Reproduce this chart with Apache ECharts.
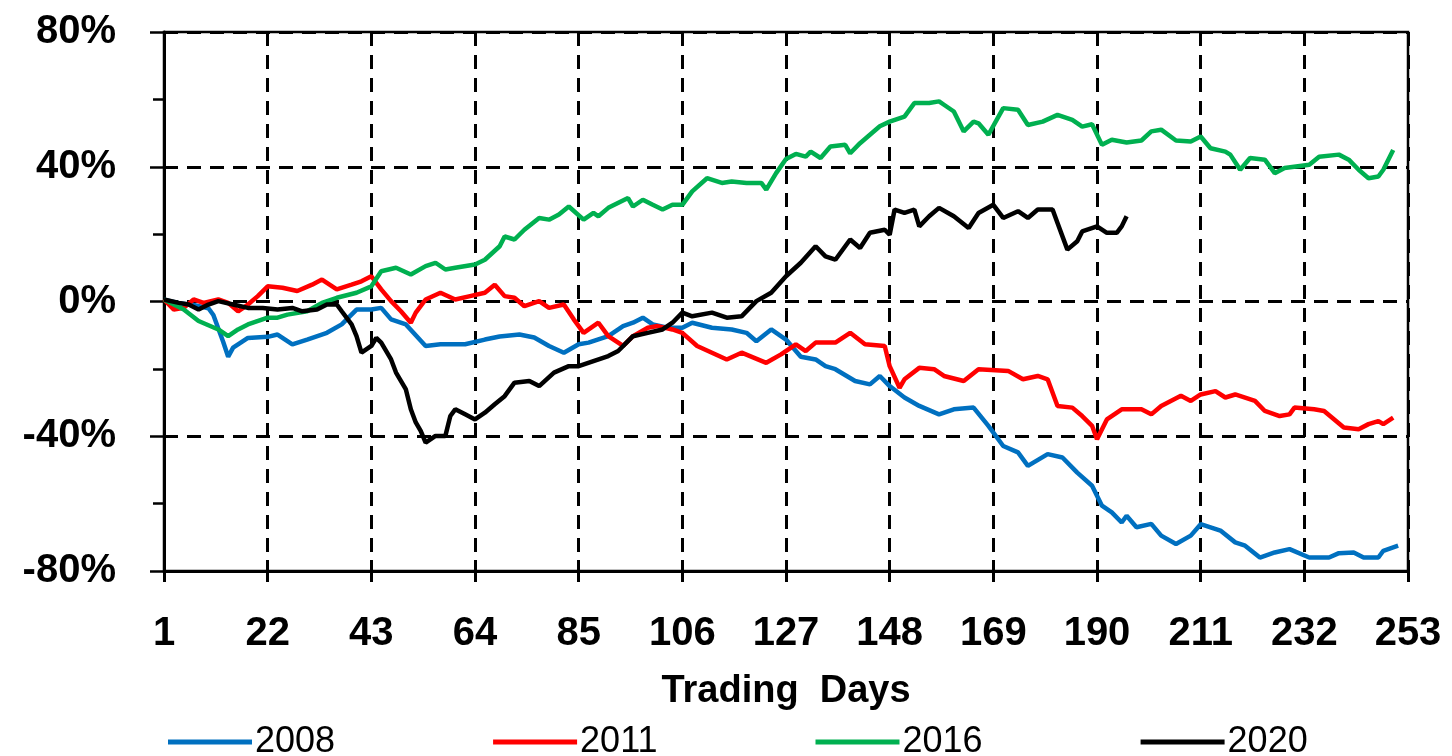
<!DOCTYPE html>
<html lang="en">
<head>
    <meta charset="UTF-8">
    <title>Trading Days</title>
    <script src="https://cdn.jsdelivr.net/npm/echarts@6/dist/echarts.min.js"></script>
    <style>
        html, body { margin: 0; padding: 0; background: #fff; }
    </style>
</head>
<body>
    <div id="main" style="width:1452px;height:756px;"></div>
    <script>
        // [trading day, % change]
        let s2008 = [[1,0.5],[4,-0.5],[7,-1],[10,-2],[11,-4],[13,-12],[14,-16.4],[15,-13.7],[18,-10.8],[22,-10.5],[24,-9.8],[27,-12.7],[30,-11.3],[34,-9.3],[37,-6.8],[40,-2.4],[43,-2.4],[45,-1.9],[47,-5.3],[50,-6.8],[54,-13.2],[57,-12.7],[62,-12.7],[66,-11.3],[69,-10.4],[73,-9.8],[76,-10.7],[79,-13.2],[82,-15.2],[85,-12.7],[87,-12.2],[91,-10.3],[94,-7.3],[96,-6.3],[98,-4.8],[100,-6.8],[103,-7.8],[106,-7.8],[108,-6.3],[112,-7.8],[116,-8.3],[119,-9.3],[121,-11.8],[124,-8.3],[127,-11.3],[130,-16.4],[133,-17.2],[135,-19.2],[137,-20.1],[141,-23.6],[144,-24.6],[146,-22.1],[148,-25.1],[151,-28.5],[154,-31],[158,-33.5],[161,-32],[165,-31.5],[168,-36.9],[171,-42.9],[174,-44.8],[176,-48.8],[180,-45.3],[183,-46.3],[186,-50.8],[189,-54.7],[191,-60.6],[193,-62.6],[195,-65.6],[196,-63.6],[198,-67],[201,-66],[203,-69.5],[206,-72],[209,-69.5],[211,-66.1],[215,-68],[218,-71.5],[220,-72.5],[223,-76],[226,-74.5],[229,-73.5],[233,-76],[237,-76],[239,-74.7],[242,-74.5],[244,-76],[247,-76],[248,-74],[251,-72.5]];
        let s2011 = [[1,0.6],[3,-2.4],[5,-1.9],[7,0.6],[9,-0.4],[12,0.6],[14,-0.4],[16,-2.9],[18,-0.9],[20,1.6],[22,4.5],[25,4.1],[28,3.1],[31,5],[33,6.5],[36,3.6],[39,5],[41,6],[43,7.5],[45,3.6],[47,0.1],[49,-2.9],[51,-6.3],[52,-3.3],[54,0.6],[57,2.6],[60,0.6],[63,1.6],[66,2.6],[68,5],[70,1.6],[72,1.1],[74,-1.4],[77,0.1],[79,-1.9],[82,-0.9],[84,-5.3],[86,-9.3],[89,-6.3],[91,-10.3],[94,-13.2],[96,-10.3],[99,-7.8],[101,-7.3],[104,-8.3],[106,-9.3],[109,-13.2],[112,-15.2],[115,-17.2],[118,-15.2],[123,-18.2],[126,-15.7],[129,-12.7],[131,-14.7],[133,-12.2],[137,-12.2],[140,-9.3],[143,-12.7],[147,-13.2],[148,-19.2],[150,-25.6],[151,-23.1],[154,-19.7],[157,-20.1],[159,-22.1],[163,-23.6],[166,-20.1],[172,-20.6],[175,-23.1],[178,-22.1],[180,-23.1],[182,-31],[185,-31.5],[187,-34],[189,-36.9],[190,-40.9],[192,-35],[195,-32],[199,-32],[201,-33.5],[203,-31],[207,-28],[209,-29.5],[211,-27.6],[214,-26.6],[216,-28.5],[218,-27.6],[222,-29.5],[224,-32.5],[227,-34],[229,-33.5],[230,-31.5],[234,-32],[236,-32.5],[240,-37.4],[243,-37.9],[245,-36.4],[247,-35.5],[248,-36.4],[250,-34.5]];
        let s2016 = [[1,0.6],[5,-2.4],[8,-5.8],[12,-8.3],[14,-10.3],[16,-8.3],[18,-6.8],[22,-4.8],[24,-4.8],[26,-3.9],[30,-2.9],[33,-0.4],[36,1.1],[40,2.6],[43,4.5],[45,9],[48,10],[51,8],[54,10.5],[56,11.5],[58,9.5],[60,10],[64,11],[66,12.4],[69,16.4],[70,19.3],[72,18.4],[74,21.3],[77,24.8],[79,24.3],[81,25.8],[83,28.2],[86,24.3],[88,26.3],[89,25.3],[91,27.8],[95,30.7],[96,28.2],[98,30.2],[100,28.7],[102,27.3],[104,28.7],[106,28.7],[108,32.7],[111,36.6],[114,35.2],[116,35.6],[119,35.2],[122,35.2],[123,33.2],[125,38.1],[127,42.3],[129,43.8],[131,43],[132,44.5],[134,42.6],[136,46],[139,46.5],[140,44],[142,47],[144,49.5],[146,52],[148,53.4],[151,54.9],[153,58.9],[156,58.9],[158,59.4],[159,58.4],[161,56.4],[163,50.5],[165,53.4],[166,52.9],[168,49.5],[171,57.4],[174,56.9],[176,52.4],[179,53.4],[182,55.4],[185,53.9],[187,51.9],[189,52.6],[191,46.5],[193,48],[196,47.2],[199,47.8],[201,50.5],[203,51],[206,47.8],[209,47.5],[211,49],[213,45.5],[216,44.5],[217,43.6],[219,39.1],[221,42.6],[224,42.1],[226,38.1],[228,39.6],[233,40.6],[235,43],[239,43.6],[241,42.1],[243,39.1],[245,36.6],[247,37.1],[248,39.1],[250,45]];
        let s2020 = [[1,0.6],[4,-0.4],[6,-0.9],[8,-2.4],[10,-0.9],[12,0.1],[15,-0.9],[18,-1.9],[21,-1.9],[24,-2.4],[27,-1.9],[29,-2.9],[32,-2.4],[34,-0.9],[36,-0.9],[37,-2.9],[39,-6.8],[40,-10.3],[41,-15.2],[43,-13.2],[44,-10.8],[45,-12.2],[47,-17.2],[48,-21.1],[50,-26.1],[51,-32],[52,-35.9],[53,-38.4],[54,-41.9],[56,-39.9],[58,-39.9],[59,-34],[60,-32],[62,-33.5],[64,-35],[66,-33],[68,-30.5],[70,-28.1],[72,-24.1],[75,-23.6],[77,-25.1],[80,-21.1],[83,-19.2],[85,-19.2],[88,-17.7],[91,-16.2],[93,-14.7],[96,-10.3],[99,-9.3],[102,-8.3],[104,-6.3],[106,-3.3],[108,-4.4],[112,-3.3],[115,-4.8],[118,-4.4],[121,0.1],[124,2.6],[127,7.5],[130,11.5],[133,16.4],[135,13.4],[137,12.4],[140,18.4],[142,15.9],[144,20.4],[147,21.3],[148,19.8],[149,27.3],[151,26.3],[153,27.3],[154,22.3],[156,25.3],[158,27.8],[161,25.3],[164,21.8],[166,26.3],[169,28.7],[171,24.8],[174,26.8],[176,24.8],[178,27.3],[181,27.3],[182,23.3],[184,15.4],[186,17.9],[187,20.8],[190,22.3],[192,20.4],[194,20.4],[195,22.3],[196,25.3]];

        let years = ['2008', '2011', '2016', '2020'];
        let colors = ['#0070C0', '#FF0000', '#00B050', '#000000'];
        let lines = [s2008, s2011, s2016, s2020];

        let font = 'Liberation Sans';
        let dash = [14, 9];

        let chart = echarts.init(document.getElementById('main'));

        chart.setOption({
            animation: false,
            backgroundColor: '#fff',
            grid: {
                left: 164,
                right: 44,
                top: 32,
                bottom: 185,
                show: true,
                borderColor: '#000',
                borderWidth: 2.5
            },
            legend: {
                data: years,
                top: 719,
                left: 163,
                icon: 'rect',
                itemWidth: 84,
                itemHeight: 5,
                itemGap: 158,
                textStyle: {
                    fontFamily: font,
                    fontSize: 36,
                    color: '#000',
                    padding: [0, 0, 0, -2]
                }
            },
            xAxis: [{
                type: 'value',
                min: 1,
                max: 253,
                interval: 21,
                position: 'bottom',
                name: 'Trading  Days',
                nameLocation: 'middle',
                nameGap: 102,
                nameTextStyle: {
                    fontFamily: font,
                    fontWeight: 'bold',
                    fontSize: 38,
                    color: '#000'
                },
                axisLine: { onZero: false, lineStyle: { color: '#000', width: 3 } },
                axisTick: { length: 11, lineStyle: { color: '#000', width: 3 } },
                axisLabel: {
                    margin: 43,
                    fontFamily: font,
                    fontWeight: 'bold',
                    fontSize: 40,
                    color: '#000'
                },
                splitLine: { lineStyle: { color: '#000', width: 3, type: dash } }
            }, {
                // inner half of the crossing ticks
                type: 'value',
                min: 1,
                max: 253,
                interval: 21,
                position: 'bottom',
                offset: 0,
                axisLine: { show: false, onZero: false },
                axisTick: { inside: true, length: 11, lineStyle: { color: '#000', width: 3 } },
                axisLabel: { show: false },
                splitLine: { show: false }
            }],
            yAxis: {
                type: 'value',
                min: -80,
                max: 80,
                interval: 40,
                axisLine: { show: true, onZero: false, lineStyle: { color: '#000', width: 3 } },
                axisTick: { show: true, length: 14, lineStyle: { color: '#000', width: 2.5 } },
                minorTick: { show: true, splitNumber: 2, length: 11, lineStyle: { color: '#000', width: 2.5 } },
                axisLabel: {
                    margin: 48,
                    fontFamily: font,
                    fontWeight: 'bold',
                    fontSize: 40,
                    color: '#000',
                    formatter: function (v) { return v + '%'; }
                },
                splitLine: { lineStyle: { color: '#000', width: 3, type: dash } }
            },
            series: years.map(function (y, i) {
                return {
                    name: y,
                    type: 'line',
                    data: lines[i],
                    showSymbol: false,
                    color: colors[i],
                    lineStyle: { color: colors[i], width: 4.5 },
                    z: 3 + i
                };
            })
        });
    </script>
</body>
</html>
